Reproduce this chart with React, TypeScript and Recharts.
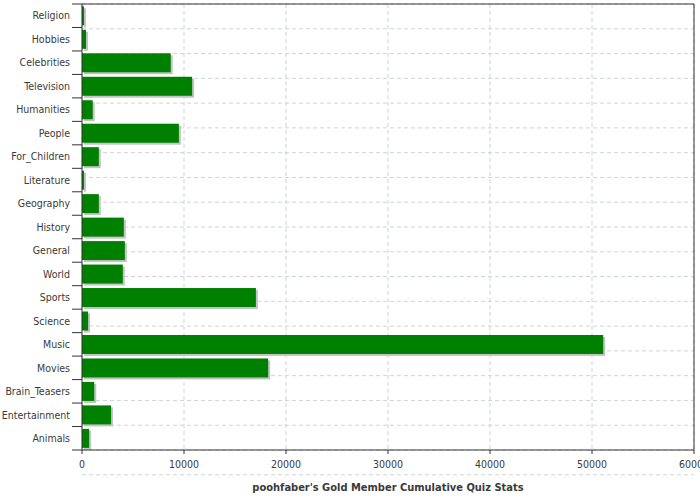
import React from 'react';
import { BarChart, Bar, XAxis, YAxis, CartesianGrid } from 'recharts';

const categories = [
  'Religion', 'Hobbies', 'Celebrities', 'Television', 'Humanities', 'People',
  'For_Children', 'Literature', 'Geography', 'History', 'General', 'World',
  'Sports', 'Science', 'Music', 'Movies', 'Brain_Teasers', 'Entertainment', 'Animals',
];
const scores = [
  200, 400, 8700, 10800, 1050, 9500,
  1650, 200, 1650, 4100, 4200, 4000,
  17050, 600, 51100, 18250, 1200, 2850, 700,
];
const valueTicks = [0, 10000, 20000, 30000, 40000, 50000, 60000];
// category boundaries (0..19) for the dashed rows and tick marks
const boundaryTicks = [...categories.map((_, i) => i), categories.length];

const title = "poohfaber's Gold Member Cumulative Quiz Stats";

const AXIS = '#333333';
const TEXT = '#3a3a3a';
const GRID = '#cdd4d8';
const FONT = "'DejaVu Sans Condensed', 'DejaVu Sans', sans-serif";

const data = categories.map((name, i) => ({ name, value: scores[i] }));

function CategoryTick(props: any) {
  const { x, y, payload, index, visibleTicksCount } = props;
  const half = payload?.offset ?? 0;
  return (
    <g>
      <line x1={x + 2} x2={x + 12} y1={y - half} y2={y - half} stroke={AXIS} />
      {index === visibleTicksCount - 1 && (
        <line x1={x + 2} x2={x + 12} y1={y + half} y2={y + half} stroke={AXIS} />
      )}
      <text x={x} y={y} dy="0.355em" textAnchor="end" fill={TEXT} fontSize={10.5} fontFamily={FONT}>
        {payload.value}
      </text>
    </g>
  );
}

function NoTick() {
  return <g />;
}

function ShadowBar(props: any) {
  const { x, y, width, height } = props;
  if (!width || width <= 0) return null;
  return (
    <g>
      <rect x={x + 2} y={y + 2} width={width} height={height} fill="#c4c4c4" />
      <rect x={x} y={y} width={width} height={height} fill="#008000" />
    </g>
  );
}

export default function App() {
  return (
    <div style={{ width: 700, height: 500, fontFamily: FONT, background: '#fff' }}>
      <style>{'body{margin:0}'}</style>
      <BarChart
        width={700}
        height={500}
        data={data}
        layout="vertical"
        margin={{ top: 3, right: 5, left: 0, bottom: 0 }}
        barCategoryGap="10%"
      >
        <CartesianGrid yAxisId="grid" stroke={GRID} strokeDasharray="4 3" />
        <Bar dataKey="value" shape={<ShadowBar />} isAnimationActive={false} />
        <XAxis
          type="number"
          domain={[0, 60000]}
          ticks={valueTicks}
          interval={0}
          height={50}
          tickSize={4}
          tickMargin={7}
          stroke={AXIS}
          tick={{ fill: TEXT, fontSize: 10.5, fontFamily: FONT }}
          label={{
            value: title,
            position: 'insideBottom',
            offset: 9,
            fill: TEXT,
            fontSize: 11,
            fontWeight: 'bold',
            fontFamily: FONT,
          }}
        />
        <XAxis
          xAxisId="top"
          orientation="top"
          type="number"
          domain={[0, 60000]}
          height={1}
          tick={false}
          tickLine={false}
          stroke={AXIS}
        />
        <YAxis
          type="category"
          dataKey="name"
          width={82}
          tickSize={0}
          tickMargin={12}
          tickLine={false}
          interval={0}
          stroke={AXIS}
          tick={<CategoryTick />}
        />
        <YAxis
          yAxisId="grid"
          orientation="right"
          type="number"
          domain={[0, categories.length]}
          ticks={boundaryTicks}
          interval={0}
          width={1}
          tick={<NoTick />}
          tickLine={false}
          stroke={AXIS}
        />
      </BarChart>
    </div>
  );
}
